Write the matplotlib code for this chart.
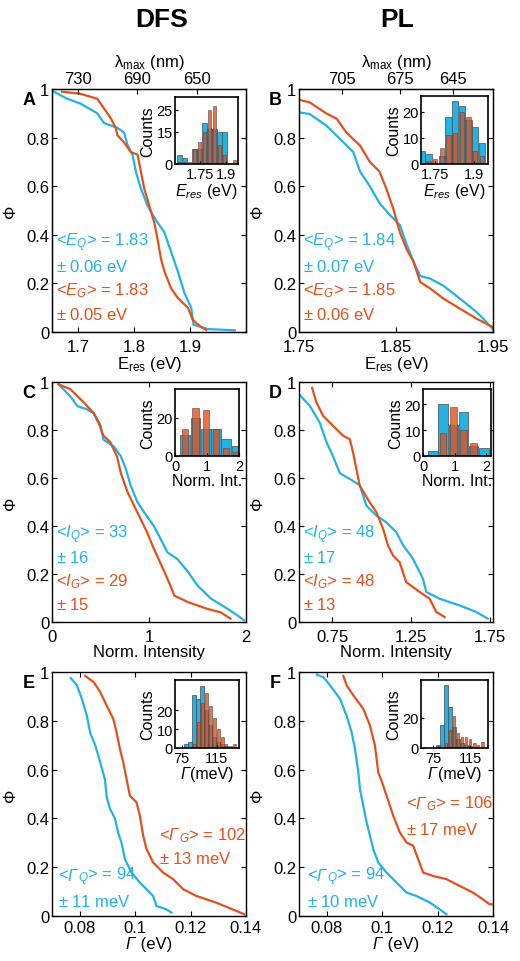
import matplotlib
matplotlib.use("Agg")
import matplotlib.pyplot as plt
from matplotlib.ticker import FuncFormatter
import numpy as np

plt.rcParams['font.family'] = ['Liberation Sans', 'DejaVu Sans']
plt.rcParams['mathtext.fontset'] = 'custom'
plt.rcParams['mathtext.rm'] = 'Liberation Sans'
plt.rcParams['mathtext.it'] = 'Liberation Sans:italic'
plt.rcParams['mathtext.bf'] = 'Liberation Sans:bold'

BLUE = '#22B2E6'
ORANGE = '#E4501C'

# ---------------- data: main curves (x, Phi) ----------------
a_blue_x = [1.653, 1.680, 1.704, 1.734, 1.746, 1.758, 1.770, 1.782, 1.788, 1.797, 1.803, 1.812, 1.824,
            1.836, 1.854, 1.866, 1.878, 1.890, 1.902, 1.906, 1.932, 1.980]
a_blue_y = [0.993, 0.96, 0.94, 0.90, 0.86, 0.85, 0.84, 0.82, 0.77, 0.73, 0.66, 0.59, 0.52,
            0.47, 0.41, 0.33, 0.25, 0.16, 0.10, 0.03, 0.012, 0.007]
a_orange_x = [1.671, 1.704, 1.734, 1.746, 1.758, 1.767, 1.770, 1.782, 1.794, 1.806, 1.812, 1.818, 1.827,
              1.836, 1.842, 1.848, 1.854, 1.866, 1.878, 1.896, 1.905, 1.912, 1.920, 1.929]
a_orange_y = [0.989, 0.98, 0.96, 0.92, 0.88, 0.84, 0.81, 0.78, 0.74, 0.73, 0.66, 0.59, 0.52,
              0.45, 0.38, 0.30, 0.25, 0.18, 0.14, 0.10, 0.05, 0.035, 0.02, 0.008]

b_blue_x = [1.750, 1.761, 1.778, 1.796, 1.806, 1.813, 1.823, 1.833, 1.844, 1.854, 1.861, 1.868, 1.875,
            1.885, 1.899, 1.916, 1.933, 1.940, 1.950]
b_blue_y = [0.904, 0.897, 0.85, 0.78, 0.74, 0.66, 0.60, 0.53, 0.48, 0.44, 0.36, 0.29, 0.23,
            0.22, 0.19, 0.137, 0.082, 0.055, 0.01]
b_orange_x = [1.750, 1.761, 1.778, 1.789, 1.799, 1.813, 1.823, 1.833, 1.840, 1.847, 1.854, 1.861, 1.868,
              1.875, 1.885, 1.899, 1.916, 1.933, 1.950]
b_orange_y = [0.956, 0.945, 0.90, 0.877, 0.82, 0.767, 0.70, 0.66, 0.59, 0.51, 0.41, 0.34, 0.29,
              0.205, 0.18, 0.137, 0.096, 0.055, 0.02]

c_blue_x = [0.069, 0.19, 0.26, 0.36, 0.43, 0.50, 0.53, 0.64, 0.71, 0.76, 0.81, 0.88, 0.95, 1.05, 1.12,
            1.19, 1.29, 1.40, 1.50, 1.64, 1.81, 1.91, 1.98]
c_blue_y = [0.99, 0.94, 0.90, 0.886, 0.87, 0.82, 0.76, 0.73, 0.69, 0.64, 0.57, 0.50, 0.457, 0.40, 0.346,
            0.29, 0.263, 0.21, 0.152, 0.097, 0.055, 0.028, 0.007]
c_orange_x = [0.069, 0.19, 0.33, 0.43, 0.48, 0.53, 0.60, 0.67, 0.71, 0.78, 0.88, 0.98, 1.05, 1.16, 1.22,
              1.26, 1.40, 1.60, 1.74, 1.84]
c_orange_y = [0.99, 0.97, 0.914, 0.87, 0.83, 0.776, 0.75, 0.69, 0.62, 0.54, 0.457, 0.374, 0.305, 0.208,
              0.152, 0.11, 0.083, 0.055, 0.04, 0.014]

d_blue_x = [0.539, 0.609, 0.672, 0.714, 0.756, 0.799, 0.862, 0.925, 0.967, 1.031, 1.094, 1.157, 1.200,
            1.263, 1.326, 1.347, 1.431, 1.558, 1.663, 1.737]
d_blue_y = [0.95, 0.90, 0.83, 0.75, 0.69, 0.62, 0.596, 0.57, 0.485, 0.443, 0.415, 0.374, 0.32,
            0.263, 0.18, 0.125, 0.097, 0.069, 0.042, 0.014]
d_orange_x = [0.623, 0.651, 0.693, 0.756, 0.820, 0.862, 0.883, 0.904, 0.925, 0.988, 1.031, 1.073, 1.104,
              1.136, 1.178, 1.220, 1.305, 1.368, 1.410, 1.463]
d_orange_y = [0.976, 0.914, 0.859, 0.817, 0.776, 0.762, 0.706, 0.637, 0.568, 0.499, 0.457, 0.388, 0.319,
              0.277, 0.249, 0.166, 0.125, 0.097, 0.042, 0.021]

e_blue_x = [0.0768, 0.0790, 0.0808, 0.0826, 0.0838, 0.0856, 0.0874, 0.0891, 0.0897, 0.0909, 0.0927,
            0.0939, 0.0951, 0.0963, 0.0987, 0.1017, 0.1041, 0.1065, 0.1077, 0.1113, 0.1131]
e_blue_y = [0.975, 0.945, 0.89, 0.82, 0.75, 0.70, 0.63, 0.56, 0.49, 0.44, 0.40,
            0.34, 0.30, 0.233, 0.178, 0.137, 0.11, 0.082, 0.041, 0.027, 0.014]
e_orange_x = [0.0820, 0.0850, 0.0874, 0.0897, 0.0921, 0.0933, 0.0945, 0.0957, 0.0969, 0.0981, 0.1005,
              0.1017, 0.1029, 0.1041, 0.1065, 0.1101, 0.1137, 0.1173, 0.1221, 0.1292, 0.1352, 0.1394]
e_orange_y = [0.984, 0.959, 0.918, 0.863, 0.808, 0.753, 0.685, 0.63, 0.562, 0.493, 0.466,
              0.411, 0.329, 0.274, 0.219, 0.178, 0.151, 0.11, 0.082, 0.055, 0.027, 0.007]

f_blue_x = [0.0764, 0.0788, 0.0812, 0.0848, 0.0872, 0.0890, 0.0902, 0.0914, 0.0920, 0.0932, 0.0944,
            0.0956, 0.0968, 0.0986, 0.1016, 0.1052, 0.1088, 0.1124, 0.1172, 0.1208, 0.1232]
f_blue_y = [0.989, 0.979, 0.945, 0.89, 0.82, 0.753, 0.685, 0.589, 0.52, 0.452, 0.384,
            0.329, 0.274, 0.219, 0.178, 0.137, 0.096, 0.082, 0.055, 0.027, 0.007]
f_orange_x = [0.0860, 0.0872, 0.0896, 0.0932, 0.0956, 0.0974, 0.0986, 0.1004, 0.1016, 0.1040, 0.1064,
              0.1088, 0.1112, 0.1130, 0.1148, 0.1184, 0.1232, 0.1280, 0.1328, 0.1364, 0.1388, 0.1400]
f_orange_y = [0.984, 0.945, 0.904, 0.849, 0.781, 0.699, 0.589, 0.534, 0.493, 0.411, 0.342,
              0.301, 0.288, 0.233, 0.178, 0.164, 0.151, 0.123, 0.096, 0.068, 0.048, 0.048]

# ---------------- data: inset histograms ----------------
a_hist_x = [1.636, 1.665, 1.693, 1.721, 1.749, 1.777, 1.805, 1.833, 1.862, 1.890, 1.918, 1.946]
a_hist_blue = [4, 3, 0, 7, 7, 19, 16, 16, 15, 15, 0, 0]
a_hist_orange = [1, 1, 1, 7, 10, 15, 25, 27, 9, 4, 0, 2]

b_hist_x = [1.698, 1.724, 1.750, 1.776, 1.802, 1.828, 1.854, 1.880, 1.906, 1.932]
b_hist_blue = [5, 4, 0, 3, 18, 24, 22, 17, 14, 8]
b_hist_orange = [0, 1, 2, 6, 11, 12, 20, 18, 5, 3]

c_hist_x = [0.32, 0.64, 0.96, 1.28, 1.60, 1.92]
c_hist_blue = [11, 20, 14, 14, 9, 5]
c_hist_orange = [14, 25, 24, 14, 4, 2]

d_hist_x = [0.32, 0.64, 0.96, 1.28, 1.60, 1.92]
d_hist_blue = [2, 20, 12, 17, 4, 3]
d_hist_orange = [0, 9, 19, 10, 5, 0]

e_hist_x = [80.3, 84.9, 89.5, 94.0, 98.6, 103.2, 107.8, 112.3, 116.9, 121.5, 126.0, 130.6, 135.2]
e_hist_blue = [2, 3, 28, 26, 33, 20, 12, 6, 3, 2, 1, 0, 0]
e_hist_orange = [0, 0, 2, 14, 24, 29, 22, 16, 10, 6, 2, 1, 2]

f_hist_x = [80.1, 84.5, 88.8, 93.2, 97.5, 101.9, 106.3, 110.6, 115.0, 119.4, 123.7, 128.1]
f_hist_blue = [2, 15, 42, 27, 14, 6, 3, 2, 1, 0, 0, 0]
f_hist_orange = [1, 0, 3, 12, 21, 10, 7, 7, 6, 3, 2, 4]

# ---------------- text ----------------
# rich pieces: (text, italic)
a_notes = [[(r'<$E_Q$> = 1.83', False)], [(r'$\pm$ 0.06 eV', False)],
           [(r'<$E_G$> = 1.83', False)], [(r'$\pm$ 0.05 eV', False)]]
b_notes = [[(r'<$E_Q$> = 1.84', False)], [(r'$\pm$ 0.07 eV', False)],
           [(r'<$E_G$> = 1.85', False)], [(r'$\pm$ 0.06 eV', False)]]
c_notes = [[(r'<$I_Q$> = 33', False)], [(r'$\pm$ 16', False)],
           [(r'<$I_G$> = 29', False)], [(r'$\pm$ 15', False)]]
d_notes = [[(r'<$I_Q$> = 48', False)], [(r'$\pm$ 17', False)],
           [(r'<$I_G$> = 48', False)], [(r'$\pm$ 13', False)]]
e_notes = [[('<', False), ('Γ', True), (r'${}_{Q}$> = 94', False)], [(r'$\pm$ 11 meV', False)],
           [('<', False), ('Γ', True), (r'${}_{G}$> = 102', False)], [(r'$\pm$ 13 meV', False)]]
f_notes = [[('<', False), ('Γ', True), (r'${}_{Q}$> = 94', False)], [(r'$\pm$ 10 meV', False)],
           [('<', False), ('Γ', True), (r'${}_{G}$> = 106', False)], [(r'$\pm$ 17 meV', False)]]
gamma_ev = [('Γ', True), (' (eV)', False)]
gamma_mev = [('Γ', True), ('(meV)', False)]

a_top_ticks = [1.700, 1.805, 1.912]
a_top_labels = ['730', '690', '650']
b_top_ticks = [1.794, 1.854, 1.909]
b_top_labels = ['705', '675', '645']

W, H = 520, 962
fig = plt.figure(figsize=(W / 100, H / 100), dpi=100)
renderer = fig.canvas.get_renderer()


def rect(l, t, r, b):
    return [l / W, (H - b) / H, (r - l) / W, (b - t) / H]


def rich(xd, yd_center, parts, color, fs, ha='left'):
    """Place text pieces side by side; xd, yd in display pixels (origin bottom-left)."""
    texts, widths = [], []
    for s, it in parts:
        t = fig.text(0, 0, s, fontsize=fs, style='italic' if it else 'normal', color=color,
                     ha='left', va='baseline')
        w = t.get_window_extent(renderer).width + (1.0 if it else 0.0)
        texts.append(t)
        widths.append(w)
    total = sum(widths)
    x0 = xd if ha == 'left' else xd - total / 2
    yb = yd_center - 0.30 * fs
    for t, w in zip(texts, widths):
        t.set_position((x0 / W, yb / H))
        x0 += w


fmt = FuncFormatter(lambda v, p: '%g' % v)
TS = 12


def style(ax, top=True, fs=TS, xpad=5.0):
    ax.tick_params(direction='in', top=top, right=True, labelsize=fs, length=3.5, width=0.8, pad=2)
    ax.tick_params(axis='x', pad=xpad)
    for s in ax.spines.values():
        s.set_linewidth(1.0)


def main_panel(rc, bx, by, ox, oy, xlim, xticks, xlabel, letter, notes, note_pos, top=None):
    ax = fig.add_axes(rect(*rc))
    ax.plot(bx, by, color=BLUE, lw=1.6)
    ax.plot(ox, oy, color=ORANGE, lw=1.6)
    ax.set_xlim(*xlim)
    ax.set_ylim(0, 1)
    ax.set_xticks(xticks)
    ax.set_yticks([0, 0.2, 0.4, 0.6, 0.8, 1.0])
    ax.xaxis.set_major_formatter(fmt)
    ax.yaxis.set_major_formatter(fmt)
    if isinstance(xlabel, str):
        style(ax, top=(top is None), xpad=5.0)
        ax.set_xlabel(xlabel, fontsize=TS, labelpad=0)
    else:
        style(ax, top=(top is None), xpad=3.0)
        cx = (rc[0] + rc[2]) / 2
        rich(cx, H - (rc[3] + 28), xlabel, 'black', TS, ha='center')
    ax.set_ylabel('Φ', fontsize=TS, labelpad=6)
    ax.text(-0.12, 0.955, letter, transform=ax.transAxes, fontsize=13, fontweight='bold',
            ha='center', va='center')
    cols = [BLUE, BLUE, ORANGE, ORANGE]
    for (x, y), parts, c in zip(note_pos, notes, cols):
        xd, yd = ax.transAxes.transform((x, y))
        rich(xd, yd, parts, c, TS)
    if top is not None:
        tt, tl = top
        ax2 = ax.twiny()
        ax2.set_xlim(*xlim)
        ax2.set_xticks(tt)
        ax2.set_xticklabels(tl)
        ax2.tick_params(direction='in', labelsize=TS, length=3.5, width=0.8, pad=2)
        ax2.set_xlabel(r'λ$_{\rm max}$ (nm)', fontsize=TS, labelpad=4)
    return ax


def inset(rc, hx, hb, ho, xlim, ylim, xticks, yticks, xlabel):
    ax = fig.add_axes(rect(*rc))
    w = hx[1] - hx[0]
    ax.bar(hx, hb, width=w * 0.95, color=BLUE, edgecolor='#4a4a4a', linewidth=0.5)
    ax.bar(hx, ho, width=w * 0.62, color=ORANGE, alpha=0.8, edgecolor='#4a4a4a', linewidth=0.5)
    ax.set_xlim(*xlim)
    ax.set_ylim(*ylim)
    ax.set_xticks(xticks)
    ax.set_yticks(yticks)
    ax.xaxis.set_major_formatter(fmt)
    ax.tick_params(direction='in', labelsize=10.5, length=2.5, width=0.8, pad=1.5)
    ax.tick_params(axis='x', pad=2.5)
    for s in ax.spines.values():
        s.set_linewidth(1.2)
    if isinstance(xlabel, str):
        ax.set_xlabel(xlabel, fontsize=11.5, labelpad=0)
    else:
        cx = (rc[0] + rc[2]) / 2
        rich(cx, H - (rc[3] + 27), xlabel, 'black', 11.5, ha='center')
    ax.set_ylabel('Counts', fontsize=11.5, labelpad=1)
    return ax


left_notes = [(0.02, 0.37), (0.02, 0.265), (0.02, 0.168), (0.02, 0.068)]

main_panel((52, 90, 246, 333), a_blue_x, a_blue_y, a_orange_x, a_orange_y, (1.653, 2.0),
           [1.7, 1.8, 1.9], r'E$_{\rm res}$ (eV)', 'A', a_notes, left_notes,
           top=(a_top_ticks, a_top_labels))
main_panel((299, 90, 493, 333), b_blue_x, b_blue_y, b_orange_x, b_orange_y, (1.75, 1.95),
           [1.75, 1.85, 1.95], r'E$_{\rm res}$ (eV)', 'B', b_notes, left_notes,
           top=(b_top_ticks, b_top_labels))
main_panel((52, 383, 246, 623), c_blue_x, c_blue_y, c_orange_x, c_orange_y, (0, 2),
           [0, 1, 2], 'Norm. Intensity', 'C', c_notes, left_notes)
main_panel((299, 383, 493, 623), d_blue_x, d_blue_y, d_orange_x, d_orange_y, (0.54, 1.77),
           [0.75, 1.25, 1.75], 'Norm. Intensity', 'D', d_notes, left_notes)
main_panel((52, 673, 246, 917), e_blue_x, e_blue_y, e_orange_x, e_orange_y, (0.07, 0.14),
           [0.08, 0.1, 0.12, 0.14], gamma_ev, 'E', e_notes,
           [(0.03, 0.164), (0.03, 0.055), (0.55, 0.329), (0.55, 0.233)])
main_panel((299, 673, 493, 917), f_blue_x, f_blue_y, f_orange_x, f_orange_y, (0.07, 0.14),
           [0.08, 0.1, 0.12, 0.14], gamma_ev, 'F', f_notes,
           [(0.04, 0.164), (0.04, 0.055), (0.55, 0.459), (0.55, 0.349)])

inset((175, 98, 238, 165), a_hist_x, a_hist_blue, a_hist_orange, (1.61, 1.966), (0, 31),
      [1.75, 1.9], [0, 15, 25], r'$E_{res}$ (eV)')
inset((421, 97, 488, 165), b_hist_x, b_hist_blue, b_hist_orange, (1.695, 1.956), (0, 26),
      [1.75, 1.9], [0, 10, 20], r'$E_{res}$ (eV)')
inset((175, 390, 239, 457), c_hist_x, c_hist_blue, c_hist_orange, (0, 2), (0, 35),
      [0, 1, 2], [0, 20], 'Norm. Int.')
inset((423, 390, 491, 457), d_hist_x, d_hist_blue, d_hist_orange, (0, 2.15), (0, 26),
      [0, 1, 2], [0, 10, 20], 'Norm. Int.')
inset((175, 681, 239, 749), e_hist_x, e_hist_blue, e_hist_orange, (67.4, 140.6), (0, 36),
      [75, 115], [0, 10, 20], gamma_mev)
inset((421, 681, 488, 749), f_hist_x, f_hist_blue, f_hist_orange, (61.5, 134.3), (0, 45),
      [75, 115], [0, 20], gamma_mev)

fig.text(162 / W, 1 - 20 / H, 'DFS', fontsize=19, fontweight='bold', ha='center', va='center')
fig.text(397 / W, 1 - 20 / H, 'PL', fontsize=19, fontweight='bold', ha='center', va='center')

fig.savefig('out.png', dpi=100)
